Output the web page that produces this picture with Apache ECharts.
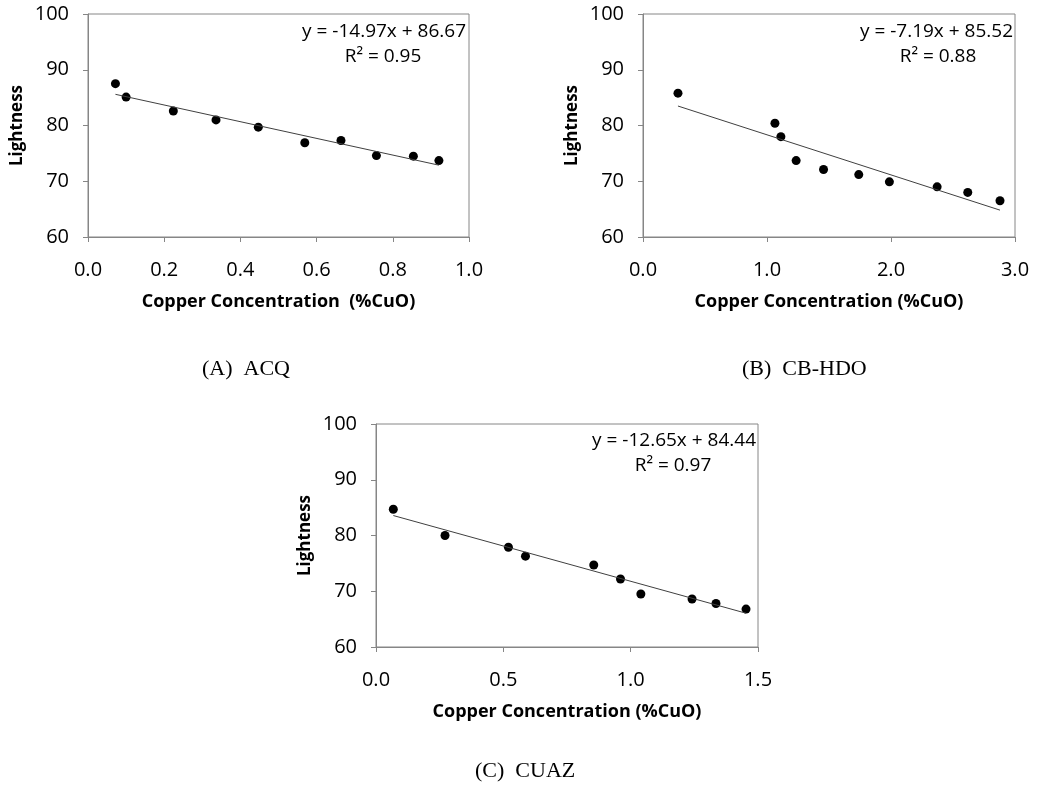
<!DOCTYPE html>
<html>
<head>
<meta charset="utf-8">
<title>Lightness vs copper concentration</title>
<script src="https://cdn.jsdelivr.net/npm/echarts@6.0.0/dist/echarts.min.js"></script>
<style>
  html, body { margin: 0; padding: 0; background: #fff; }
  #chart { width: 1047px; height: 786px; }
</style>
</head>
<body>
<div id="chart"></div>
<script>
// Values.
const acqX = [0.072, 0.100, 0.224, 0.336, 0.447, 0.569, 0.664, 0.757, 0.854, 0.921];
const acqY = [87.5, 85.1, 82.6, 81.0, 79.7, 76.9, 77.3, 74.6, 74.5, 73.7];

const cbX = [0.282, 1.064, 1.112, 1.235, 1.456, 1.740, 1.987, 2.372, 2.619, 2.879];
const cbY = [85.8, 80.4, 78.0, 73.7, 72.1, 71.2, 69.9, 69.0, 68.0, 66.5];

const cuazX = [0.068, 0.271, 0.520, 0.587, 0.855, 0.960, 1.040, 1.241, 1.335, 1.453];
const cuazY = [84.7, 80.0, 77.9, 76.3, 74.7, 72.2, 69.5, 68.6, 67.8, 66.8];

// Fitted lines as printed on the chart: [slope, intercept]
const acqFit = [-14.97, 86.67];
const cbFit = [-7.19, 85.52];
const cuazFit = [-12.65, 84.44];

const eqLabels = ['y = -14.97x + 86.67', 'y = -7.19x + 85.52', 'y = -12.65x + 84.44'];
const r2Labels = ['R\u00b2 = 0.95', 'R\u00b2 = 0.88', 'R\u00b2 = 0.97'];
const captions = ['(A)  ACQ', '(B)  CB-HDO', '(C)  CUAZ'];
const xNames = ['Copper Concentration  (%CuO)', 'Copper Concentration (%CuO)', 'Copper Concentration (%CuO)'];
const xMax = [1.0, 3.0, 1.5];
const xStep = [0.2, 1.0, 0.5];

const panels = [
  { x: acqX, y: acqY, fit: acqFit, grid: { left: 88, top: 14, width: 381, height: 223 },
    eq: [466, 32], r2: [383, 57], cap: [202, 369] },
  { x: cbX, y: cbY, fit: cbFit, grid: { left: 643, top: 14, width: 372, height: 223 },
    eq: [1013, 32], r2: [938, 57], cap: [742, 369] },
  { x: cuazX, y: cuazY, fit: cuazFit, grid: { left: 376, top: 424, width: 382, height: 223 },
    eq: [756, 441], r2: [673, 466], cap: [475, 771] },
];

const AXIS = '#868686';
const SANS = '"Open Sans", "DejaVu Sans", sans-serif';

const grids = [], xAxes = [], yAxes = [], series = [], graphics = [];

panels.forEach(function (p, i) {
  grids.push(Object.assign({ show: true, borderColor: AXIS, borderWidth: 1, backgroundColor: 'transparent' }, p.grid));

  xAxes.push({
    gridIndex: i, type: 'value', min: 0, max: xMax[i], interval: xStep[i],
    name: xNames[i], nameLocation: 'middle', nameGap: 56,
    nameTextStyle: { fontFamily: SANS, fontWeight: 'bold', fontSize: 18, color: '#000' },
    axisLine: { show: true, lineStyle: { color: AXIS, width: 1 } },
    axisTick: { show: true, length: 5, lineStyle: { color: AXIS } },
    axisLabel: { margin: 23, fontFamily: SANS, fontSize: 20, color: '#000',
      formatter: function (v) { return v.toFixed(1); } },
    splitLine: { show: false },
  });

  yAxes.push({
    gridIndex: i, type: 'value', min: 60, max: 100, interval: 10,
    name: 'Lightness', nameLocation: 'middle', nameGap: 62,
    nameTextStyle: { fontFamily: SANS, fontWeight: 'bold', fontSize: 17, color: '#000' },
    axisLine: { show: true, lineStyle: { color: AXIS, width: 1 } },
    axisTick: { show: true, length: 5, lineStyle: { color: AXIS } },
    axisLabel: { margin: 19, fontFamily: SANS, fontSize: 20, color: '#000' },
    splitLine: { show: false },
  });

  const lo = Math.min.apply(null, p.x), hi = Math.max.apply(null, p.x);
  series.push({
    type: 'line', xAxisIndex: i, yAxisIndex: i, symbol: 'none', silent: true,
    lineStyle: { color: '#404040', width: 1 },
    data: [[lo, p.fit[0] * lo + p.fit[1]], [hi, p.fit[0] * hi + p.fit[1]]],
  });
  series.push({
    type: 'scatter', xAxisIndex: i, yAxisIndex: i, symbol: 'circle', symbolSize: 9,
    itemStyle: { color: '#000', opacity: 1 },
    data: p.x.map(function (v, k) { return [v, p.y[k]]; }),
  });

  graphics.push({ type: 'text', x: p.eq[0], y: p.eq[1],
    style: { text: eqLabels[i], align: 'right', verticalAlign: 'middle', font: '19px ' + SANS, fill: '#000' } });
  graphics.push({ type: 'text', x: p.r2[0], y: p.r2[1],
    style: { text: r2Labels[i], align: 'center', verticalAlign: 'middle', font: '19px ' + SANS, fill: '#000' } });
  graphics.push({ type: 'text', x: p.cap[0], y: p.cap[1],
    style: { text: captions[i], align: 'left', verticalAlign: 'middle', font: '22px "Liberation Serif", "DejaVu Serif", serif', fill: '#000' } });
});

const chart = echarts.init(document.getElementById('chart'), null, { renderer: 'canvas' });
chart.setOption({
  animation: false,
  backgroundColor: '#fff',
  grid: grids,
  xAxis: xAxes,
  yAxis: yAxes,
  series: series,
  graphic: graphics,
});
</script>
</body>
</html>
